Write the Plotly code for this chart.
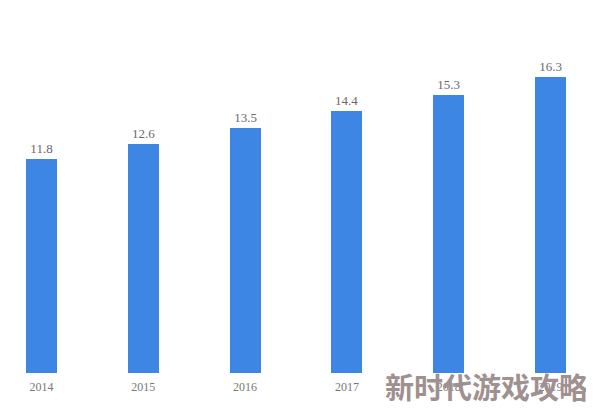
import plotly.graph_objects as go

years = ["2014", "2015", "2016", "2017", "2018", "2019"]
values = [11.8, 12.6, 13.5, 14.4, 15.3, 16.3]
value_labels = ["11.8", "12.6", "13.5", "14.4", "15.3", "16.3"]
positions = list(range(len(years)))

fig = go.Figure()
fig.add_trace(go.Bar(
    x=positions, y=values, width=0.305,
    marker=dict(color="#3d86e3", line=dict(width=0)),
    text=value_labels, textposition="outside",
    textfont=dict(family="Liberation Serif, DejaVu Serif, serif", size=13, color="#6a6a6a"),
    cliponaxis=False,
))

fig.update_layout(
    width=594, height=409,
    margin=dict(l=0, r=0, t=38, b=44),
    plot_bgcolor="white", paper_bgcolor="white",
    showlegend=False,
    bargap=0,
    uniformtext=dict(minsize=8),
    xaxis=dict(range=[-0.329, 5.506], tickmode="array", tickvals=positions, ticktext=years,
               showgrid=False, zeroline=False, showline=False, ticks="",
               ticklabelstandoff=5,
               tickfont=dict(family="Liberation Serif, DejaVu Serif, serif", size=12, color="#777777")),
    yaxis=dict(range=[0, 18], visible=False, showgrid=False, zeroline=False),
)

fig.add_annotation(
    text="<b>新时代游戏攻略</b>", xref="paper", yref="paper", x=0.98, y=-0.04,
    xanchor="right", yanchor="middle", showarrow=False,
    font=dict(family="Noto Sans CJK SC", size=29, color="#a09090"),
)

fig.write_html("out.html")
